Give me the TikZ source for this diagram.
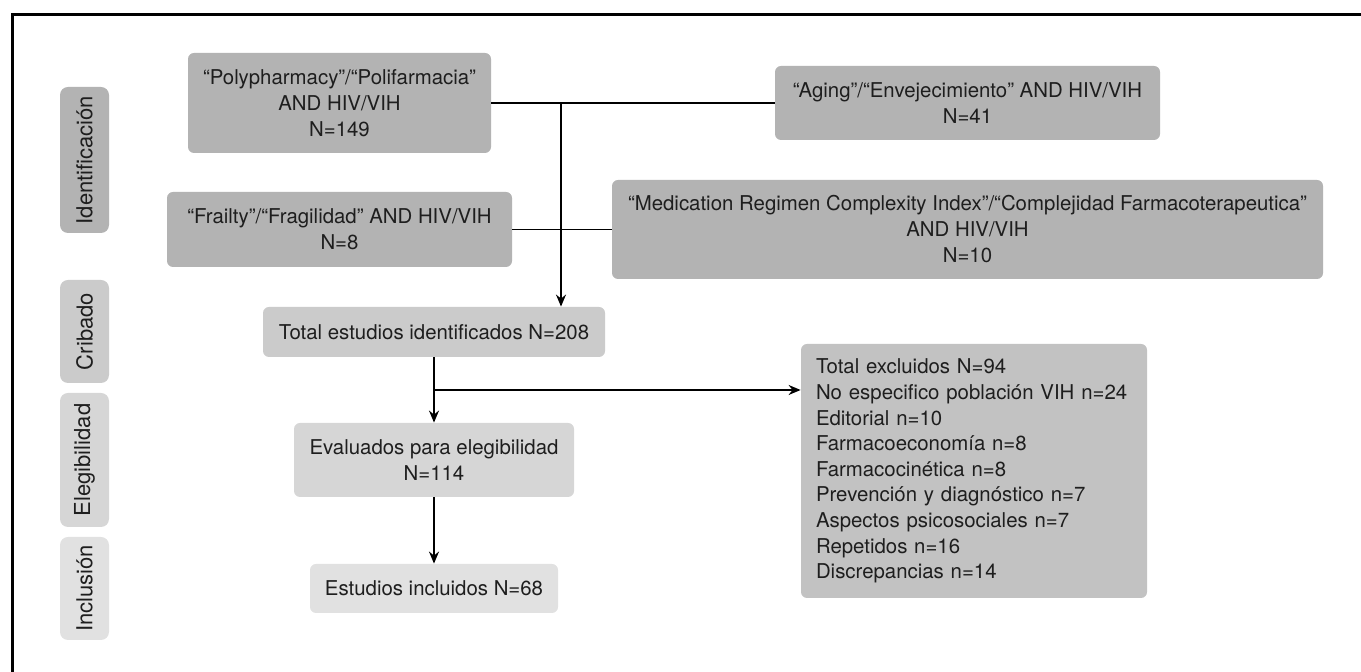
\documentclass[tikz,border=0pt]{standalone}
\usepackage{fontspec}
\setmainfont{TeX Gyre Heros}
\usetikzlibrary{arrows.meta}

\definecolor{fillA}{HTML}{B3B3B3}
\definecolor{fillB}{HTML}{CBCBCB}
\definecolor{fillC}{HTML}{D6D6D6}
\definecolor{fillD}{HTML}{E1E1E1}
\definecolor{fillE}{HTML}{C2C2C2}
\definecolor{ink}{HTML}{1E1E1E}

\begin{document}
\begin{tikzpicture}[x=0.5pt,y=-0.5pt,
  box/.style={fill=#1, draw=none, rounded corners=3pt, align=center,
    text=ink, inner sep=0pt, font=\fontsize{10.2}{13}\selectfont},
  phase/.style={fill=#1, draw=none, rounded corners=4pt, rotate=90,
    text=ink, inner sep=0pt, minimum height=24.5pt,
    font=\fontsize{11}{13}\selectfont},
  link/.style={draw=black, line width=0.7pt},
  flow/.style={link, -{Stealth[length=6pt,width=5pt]}}
]
\useasboundingbox (0,0) rectangle (1361,672);

% outer frame
\draw[line width=1.5pt] (12,672) -- (12,15) -- (1361,15);

% phase labels
\node[phase=fillA, minimum width=73pt]   (ident) at (84.5,160)   {Identificación};
\node[phase=fillB, minimum width=51.5pt] (crib)  at (84.5,331.5) {Cribado};
\node[phase=fillC, minimum width=67pt]   (eleg)  at (84.5,460)   {Elegibilidad};
\node[phase=fillD, minimum width=51.5pt] (inclu) at (84.5,588.5) {Inclusión};

% identification sources
\node[box=fillA, minimum width=151.5pt, minimum height=50pt] (poly) at (339.5,103)
  {“Polypharmacy”/“Polifarmacia”\\AND HIV/VIH\\N=149};
\node[box=fillA, minimum width=192.5pt, minimum height=37pt] (aging) at (967.5,103)
  {“Aging”/“Envejecimiento” AND HIV/VIH\\N=41};
\node[box=fillA, minimum width=172.5pt, minimum height=37.5pt] (frail) at (339.5,229.5)
  {“Frailty”/“Fragilidad” AND HIV/VIH\\N=8};
\node[box=fillA, minimum width=355.5pt, minimum height=49.5pt] (medic) at (967.5,229.5)
  {“Medication Regimen Complexity Index”/“Complejidad Farmacoterapeutica”\\AND HIV/VIH\\N=10};

% screening, eligibility, inclusion
\node[box=fillB, minimum width=171pt, minimum height=25pt] (total) at (434,332)
  {Total estudios identificados N=208};
\node[box=fillC, minimum width=140pt, minimum height=37pt] (eval) at (434,460)
  {Evaluados para elegibilidad\\N=114};
\node[box=fillD, minimum width=124pt, minimum height=24.5pt] (incl) at (434,588.5)
  {Estudios incluidos N=68};

% exclusions
\node[box=fillE, minimum width=173pt, minimum height=127pt, inner xsep=7.5pt,
      text width=158pt, align=left, font=\fontsize{10.2}{12.8}\selectfont] (excl) at (974,471)
  {Total excluidos N=94\\
   No especifico población VIH n=24\\
   Editorial n=10\\
   Farmacoeconomía n=8\\
   Farmacocinética n=8\\
   Prevención y diagnóstico n=7\\
   Aspectos psicosociales n=7\\
   Repetidos n=16\\
   Discrepancias n=14};

% connectors
\coordinate (j1) at (561,103);
\coordinate (j2) at (434,390);
\draw[link] (poly.east) -- (aging.west);
\draw[link] (frail.east) -- (medic.west);
\draw[flow] (j1) -- (j1 |- total.north);
\draw[flow] (total.south) -- (eval.north);
\draw[flow] (j2) -- (j2 -| excl.west);
\draw[flow] (eval.south) -- (incl.north);
\end{tikzpicture}
\end{document}
